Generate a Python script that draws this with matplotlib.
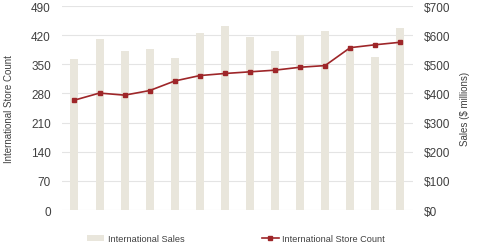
import numpy as np
import matplotlib
matplotlib.use("Agg")
import matplotlib.pyplot as plt
from matplotlib.patches import Patch
from matplotlib.lines import Line2D

plt.rcParams["font.family"] = ["Liberation Sans", "DejaVu Sans"]

# values
periods = np.arange(14)
sales = [518, 587, 547, 552, 522, 606, 630, 593, 545, 602, 613, 552, 526, 625]
store_count = [264, 281, 276, 287, 310, 323, 328, 332, 336, 343, 347, 390, 397, 403]
left_ticks = [0, 70, 140, 210, 280, 350, 420, 490]
right_ticks = [0, 100, 200, 300, 400, 500, 600, 700]

bar_color = "#e9e6dc"
line_color = "#9e2629"
text_color = "#404040"
grid_color = "#e4e4e4"

fig = plt.figure(figsize=(4.8, 2.51), dpi=100)
ax = fig.add_axes([0.129, 0.159, 0.731, 0.813])
ax2 = ax.twinx()

# bars go on the right axis, line on the left; keep the line on top
ax2.bar(periods, sales, width=0.32, color=bar_color, zorder=1)
ax.plot(periods, store_count, color=line_color, linewidth=1.2, marker="s",
        markersize=3, zorder=3)
ax.set_zorder(ax2.get_zorder() + 1)
ax.patch.set_visible(False)

ax.set_xlim(-0.5, 13.5)
ax.set_ylim(0, 490)
ax2.set_ylim(0, 700)
ax.set_yticks(left_ticks)
ax2.set_yticks(right_ticks)
ax2.set_yticklabels(["$" + str(v) for v in right_ticks])
ax.set_xticks([])

for a in (ax, ax2):
    for s in a.spines.values():
        s.set_visible(False)
    a.tick_params(axis="y", length=0, labelsize=8.5, colors=text_color)
ax.tick_params(axis="y", pad=8)
ax2.tick_params(axis="y", pad=8)

for v in left_ticks:
    ax2.axhline(v / 490 * 700, color=grid_color, linewidth=0.8, zorder=0)

ax.set_ylabel("International Store Count", fontsize=7, color=text_color, labelpad=12)
ax2.set_ylabel("Sales ($ millions)", fontsize=7, color=text_color, labelpad=7)

handles = [Patch(facecolor=bar_color, edgecolor="none"),
           Line2D([0], [0], color=line_color, linewidth=1.2, marker="s", markersize=3)]
fig.legend(handles, ["International Sales", "International Store Count"],
           loc="center", bbox_to_anchor=(0.492, 0.045), ncol=2, frameon=False,
           fontsize=6.6, columnspacing=8.5, handlelength=1.8, handletextpad=0.4,
           labelcolor=text_color)

fig.savefig("out.png", dpi=100)
